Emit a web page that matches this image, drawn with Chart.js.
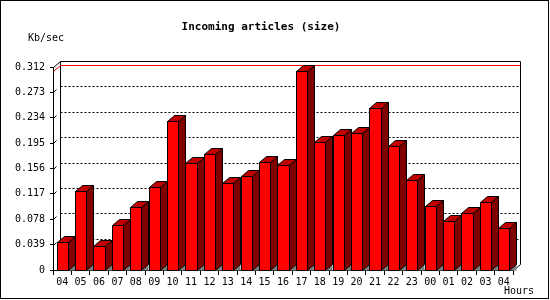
<!DOCTYPE html>
<html>
<head>
<meta charset="utf-8">
<script src="https://cdn.jsdelivr.net/npm/chart.js@4/dist/chart.umd.min.js"></script>
<style>
  html, body { margin: 0; padding: 0; background: #fff; }
  canvas { display: block; }
</style>
</head>
<body>
<canvas id="chart" width="550" height="300"></canvas>
<script>
// ─── DATA ───────────────────────────────────────────────────────
const hours = ["04", "05", "06", "07", "08", "09", "10", "11", "12", "13", "14", "15", "16",
               "17", "18", "19", "20", "21", "22", "23", "00", "01", "02", "03", "04"];
const kbPerSec = [0.0426, 0.121, 0.0364, 0.0687, 0.0964, 0.127, 0.229, 0.1645, 0.179, 0.133,
                  0.144, 0.1655, 0.161, 0.306, 0.196, 0.207, 0.210, 0.2485, 0.190, 0.139,
                  0.098, 0.075, 0.087, 0.104, 0.064];
const yTicks = [0, 0.039, 0.078, 0.117, 0.156, 0.195, 0.234, 0.273, 0.312];

// ─── STYLE ──────────────────────────────────────────────────────
const C = {
  front: "#ff0000",
  top:   "#c00000",
  side:  "#800000",
  floor: "#808080",
  max:   "#ff0000",
  ink:   "#000000",
};
const DX = 7, DY = 6;          // profundidad 3D
const MONO = "'DejaVu Sans Mono', monospace";

// paredes, rejilla punteada y línea del máximo
const backWall = {
  id: "backWall",
  beforeDraw(chart) {
    const ctx = chart.ctx;
    ctx.save();
    ctx.fillStyle = "#fff";
    ctx.fillRect(0, 0, chart.width, chart.height);
    ctx.restore();
  },
  beforeDatasetsDraw(chart) {
    const { ctx, chartArea: a, scales: { y } } = chart;
    const L = a.left + 0.5, R = a.right + 0.5, T = a.top + 0.5, B = a.bottom + 0.5;
    ctx.save();
    ctx.lineWidth = 1;

    // rejilla
    ctx.strokeStyle = C.ink;
    ctx.setLineDash([2, 2]);
    yTicks.slice(1, -1).forEach(v => {
      const py = Math.round(y.getPixelForValue(v)) + 0.5 - DY;
      ctx.beginPath();
      ctx.moveTo(L + DX, py);
      ctx.lineTo(R + DX, py);
      ctx.stroke();
    });
    ctx.setLineDash([]);

    // marcas diagonales en el eje frontal
    yTicks.slice(1, -1).forEach(v => {
      const py = Math.round(y.getPixelForValue(v)) + 0.5;
      ctx.beginPath();
      ctx.moveTo(L, py);
      ctx.lineTo(L + 3, py - 3);
      ctx.stroke();
    });

    // marco de la pared trasera
    ctx.beginPath();
    ctx.moveTo(L + DX, B - DY);
    ctx.lineTo(L + DX, T - DY);
    ctx.lineTo(R + DX, T - DY);
    ctx.lineTo(R + DX, B - DY);
    ctx.lineTo(R, B);
    ctx.moveTo(L, T);
    ctx.lineTo(L + DX, T - DY);
    ctx.stroke();

    // máximo
    const my = Math.round(y.getPixelForValue(Math.max(...kbPerSec))) + 0.5;
    ctx.strokeStyle = C.max;
    ctx.beginPath();
    ctx.moveTo(L, my);
    ctx.lineTo(L + DX, my - DY);
    ctx.lineTo(R + DX, my - DY);
    ctx.stroke();
    ctx.restore();
  },
};

// caras superior y lateral de cada barra
const bars3d = {
  id: "bars3d",
  afterDatasetsDraw(chart) {
    const ctx = chart.ctx;
    const meta = chart.getDatasetMeta(0);
    ctx.save();
    ctx.lineWidth = 1;
    ctx.strokeStyle = C.ink;
    meta.data.forEach(bar => {
      const x1 = Math.round(bar.x - bar.width / 2) + 0.5;
      const x2 = Math.round(bar.x + bar.width / 2) + 0.5;
      const yt = Math.round(bar.y) + 0.5;
      const yb = Math.round(bar.base) + 0.5;

      // sombra en el suelo
      ctx.fillStyle = C.floor;
      ctx.beginPath();
      ctx.moveTo(x2, yb);
      ctx.lineTo(x2 + DX, yb - DY);
      ctx.lineTo(x2 + DX, yb);
      ctx.closePath();
      ctx.fill();

      // lateral
      ctx.fillStyle = C.side;
      ctx.beginPath();
      ctx.moveTo(x2, yt);
      ctx.lineTo(x2 + DX, yt - DY);
      ctx.lineTo(x2 + DX, yb - DY);
      ctx.lineTo(x2, yb);
      ctx.closePath();
      ctx.fill();
      ctx.stroke();

      // tapa
      ctx.fillStyle = C.top;
      ctx.beginPath();
      ctx.moveTo(x1, yt);
      ctx.lineTo(x1 + DX, yt - DY);
      ctx.lineTo(x2 + DX, yt - DY);
      ctx.lineTo(x2, yt);
      ctx.closePath();
      ctx.fill();
      ctx.stroke();

      // frente
      ctx.fillStyle = C.front;
      ctx.fillRect(x1, yt, x2 - x1, yb - yt);
      ctx.strokeRect(x1, yt, x2 - x1, yb - yt);
    });
    ctx.restore();
  },
  afterDraw(chart) {
    const ctx = chart.ctx;
    ctx.save();
    ctx.fillStyle = C.ink;
    ctx.textBaseline = "middle";

    ctx.font = "bold 11px " + MONO;
    ctx.textAlign = "center";
    ctx.fillText("Incoming articles (size)", 261, 27);

    ctx.font = "10px " + MONO;
    ctx.textAlign = "left";
    ctx.fillText("Kb/sec", 28, 38);
    ctx.textAlign = "right";
    ctx.fillText("Hours", 534, 291);

    // marco exterior
    ctx.strokeStyle = C.ink;
    ctx.strokeRect(0.5, 0.5, 548, 298);
    ctx.restore();
  },
};

new Chart(document.getElementById("chart"), {
  type: "bar",
  data: {
    labels: hours,
    datasets: [{
      label: "Kb/sec",
      data: kbPerSec,
      backgroundColor: "rgba(0,0,0,0)",
      borderWidth: 0,
      barPercentage: 0.6,
      categoryPercentage: 1,
    }],
  },
  options: {
    responsive: false,
    animation: false,
    devicePixelRatio: 1,
    layout: { padding: { top: 67, right: 37, left: 0, bottom: 0 } },
    plugins: {
      legend: { display: false },
      title: { display: false },
      tooltip: { enabled: false },
    },
    scales: {
      x: {
        offset: true,
        border: { color: C.ink, width: 1 },
        grid: { offset: true, drawOnChartArea: false, tickLength: 5, color: C.ink },
        ticks: { color: C.ink, font: { family: MONO, size: 10 }, padding: 1, maxRotation: 0, autoSkip: false },
        afterFit: s => { s.height = 30; },
      },
      y: {
        min: 0,
        max: 0.312,
        border: { color: C.ink, width: 1 },
        grid: { drawOnChartArea: false, tickLength: 3, color: C.ink },
        ticks: {
          color: C.ink,
          font: { family: MONO, size: 10 },
          padding: 5,
          callback: v => (v === 0 ? "0" : v.toFixed(3)),
        },
        afterBuildTicks: s => { s.ticks = yTicks.map(v => ({ value: v })); },
        afterFit: s => { s.width = 53; },
      },
    },
  },
  plugins: [backWall, bars3d],
});
</script>
</body>
</html>
